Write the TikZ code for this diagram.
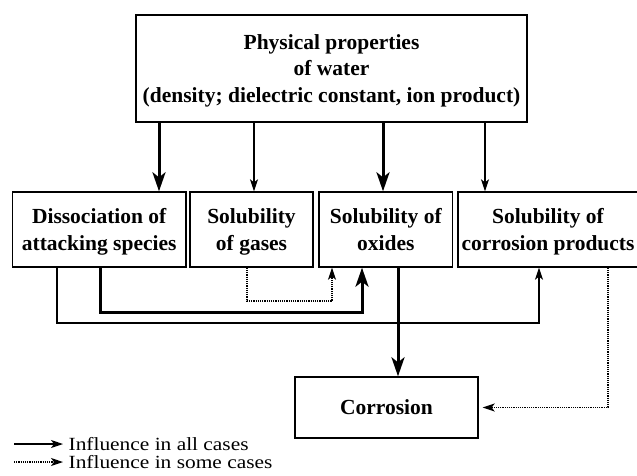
\documentclass[tikz,border=0pt]{standalone}
\usepackage{fontspec}
\setmainfont{Liberation Serif}
\newfontfamily\legendfont{Liberation Serif}[FakeStretch=1.15]
\usetikzlibrary{positioning,arrows.meta,calc}
\tikzset{
  factbox/.style={draw=black,line width=1.4pt,align=center,font=\fontsize{21.5}{26.5}\selectfont\bfseries,inner sep=0pt,text depth=-3pt},
  allflow/.style={-{Stealth[length=12pt,width=8pt,inset=3pt]},line width=1.3pt},
  strongflow/.style={-{Stealth[length=19pt,width=13pt,inset=5pt]},line width=3pt},
  someflow/.style={-{Stealth[length=12pt,width=8pt,inset=3pt]},line width=1.3pt,dash pattern=on 1.2pt off 1pt},
  legendtext/.style={right=5pt,font=\legendfont\fontsize{18.6}{19}\selectfont,inner sep=0pt},
}

\begin{document}
\begin{tikzpicture}[x=1pt,y=-1pt]
  \useasboundingbox (0,0) rectangle (637,475);
  % top box
  \node[factbox,minimum width=391pt,minimum height=107pt] (water) at (331.5,68.5)
    {Physical properties\\ of water\\ (density; dielectric constant, ion product)};
  % middle row
  \node[factbox,minimum width=173.5pt,minimum height=75pt] (diss) at (99.2,229.5) {Dissociation of\\ attacking species};
  \node[factbox,minimum width=123pt,minimum height=75pt] (gas) at (251.5,229.5) {Solubility\\ of gases};
  \node[factbox,minimum width=133.5pt,minimum height=75pt] (oxid) at (385.8,229.5) {Solubility of\\ oxides};
  \node[factbox,minimum width=180pt,minimum height=75pt] (prod) at (548,229.5) {Solubility of\\ corrosion products};
  % result
  \node[factbox,minimum width=183pt,minimum height=61pt] (corr) at (386.5,407.5) {Corrosion};
  % water to row
  \draw[strongflow] (water.south -| 159,0) -- (diss.north -| 159,0);
  \draw[allflow] (water.south -| 254,0) -- (gas.north -| 254,0);
  \draw[strongflow] (water.south -| 383,0) -- (oxid.north -| 383,0);
  \draw[allflow] (water.south -| 485,0) -- (prod.north -| 485,0);
  % cross links
  \draw[allflow] (diss.south -| 57,0) |- (539,323) -- (prod.south -| 539,0);
  \draw[strongflow] (diss.south -| 100,0) |- (362,312) -- (oxid.south -| 362,0);
  \draw[someflow] (gas.south -| 247,0) |- (332,301) -- (oxid.south -| 332,0);
  \draw[strongflow] (oxid.south -| 398,0) -- (corr.north -| 398,0);
  \draw[someflow] (prod.south -| 608,0) |- ($(corr.east)+(4,0)$);
  % legend
  \coordinate (la1) at (14,444);
  \coordinate (la2) at (14,462);
  \draw[allflow] (la1) -- ++(49,0) node[legendtext] (lt1) {Influence in all cases};
  \draw[someflow] (la2) -- ++(49,0) node[legendtext] (lt2) {Influence in some cases};
\end{tikzpicture}
\end{document}
